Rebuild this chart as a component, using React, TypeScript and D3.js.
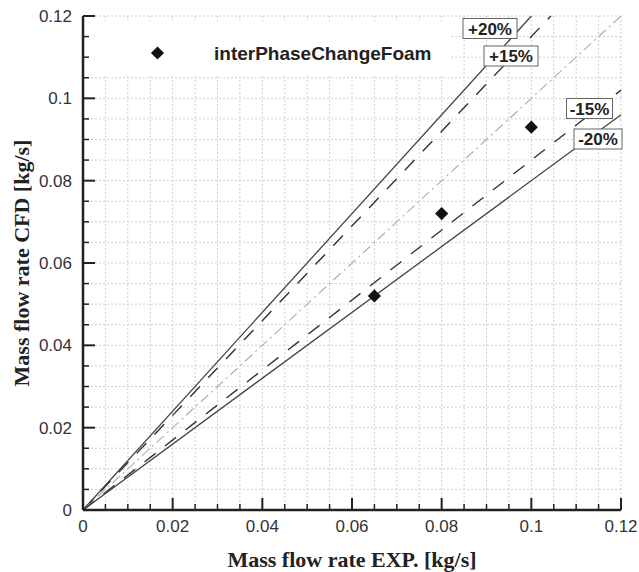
import React from "react";
import * as d3 from "d3";

const xTicks = [0, 0.02, 0.04, 0.06, 0.08, 0.1, 0.12];
const yTicks = [0, 0.02, 0.04, 0.06, 0.08, 0.1, 0.12];
const tickLabels = ["0", "0.02", "0.04", "0.06", "0.08", "0.1", "0.12"];
const expValues = [0.065, 0.08, 0.1];
const cfdValues = [0.052, 0.072, 0.093];
const seriesName = "interPhaseChangeFoam";
const bandFactors = [1.2, 1.15, 1.0, 0.85, 0.8];
const bandLabels = ["+20%", "+15%", "", "-15%", "-20%"];
const xTitle = "Mass flow rate EXP. [kg/s]";
const yTitle = "Mass flow rate CFD [kg/s]";

const W = 639, H = 572;
const L = 83, R = 621, T = 16, B = 510;

export default function App() {
  const x = d3.scaleLinear().domain([0, 0.12]).range([L, R]);
  const y = d3.scaleLinear().domain([0, 0.12]).range([B, T]);
  const minor = d3.range(1, 25).map((i) => i * 0.005);
  const line = d3.line<[number, number]>().x((d) => x(d[0])).y((d) => y(d[1]));

  const bandStyle = (f: number) => {
    if (f === 1) return { stroke: "#b0b0b0", dash: "10,4,2,4", w: 1.2 };
    if (f === 1.15 || f === 0.85) return { stroke: "#333", dash: "14,12", w: 1.4 };
    return { stroke: "#444", dash: "none", w: 1.3 };
  };

  const sans = "'Liberation Sans', Arial, sans-serif";
  const serif = "'Liberation Serif', 'Times New Roman', serif";

  const labelBoxes: { [k: string]: { cx: number; cy: number; w: number } } = {
    "+20%": { cx: 490, cy: 28.5, w: 54 },
    "+15%": { cx: 511, cy: 56, w: 54 },
    "-15%": { cx: 589.5, cy: 108.5, w: 46 },
    "-20%": { cx: 598, cy: 139, w: 48 },
  };

  const diamond = d3.symbol().type(d3.symbolDiamond2).size(110)();

  return (
    <svg width={W} height={H} style={{ position: "absolute", left: 0, top: 0, background: "#fff" }}>
      {/* grid */}
      <g stroke="#cfcfcf" strokeWidth={1} strokeDasharray="2,2">
        {minor.map((v) => (
          <line key={"gx" + v} x1={x(v)} x2={x(v)} y1={B} y2={T} />
        ))}
        {minor.map((v) => (
          <line key={"gy" + v} x1={L} x2={R} y1={y(v)} y2={y(v)} />
        ))}
      </g>
      {/* legend box background */}
      <rect x={L + 2} y={21} width={365} height={54} fill="#fff" />
      {/* band lines */}
      {bandFactors.map((f) => {
        const s = bandStyle(f);
        const xEnd = Math.min(0.12, 0.12 / f);
        return (
          <path
            key={"b" + f}
            d={line([[0, 0], [xEnd, xEnd * f]]) || ""}
            fill="none"
            stroke={s.stroke}
            strokeWidth={s.w}
            strokeDasharray={s.dash}
          />
        );
      })}
      {/* band labels */}
      {bandLabels.map((lab) => {
        if (!lab) return null;
        const b = labelBoxes[lab];
        return (
          <g key={lab}>
            <rect x={b.cx - b.w / 2} y={b.cy - 10} width={b.w} height={20} fill="#fff" stroke="#666" strokeWidth={1} />
            <text x={b.cx} y={b.cy + 6} textAnchor="middle" fontFamily={sans} fontWeight="bold" fontSize={17} fill="#222">
              {lab}
            </text>
          </g>
        );
      })}
      {/* data points */}
      {expValues.map((v, i) => (
        <path key={"p" + i} d={diamond || ""} transform={`translate(${x(v)},${y(cfdValues[i])})`} fill="#111" />
      ))}
      {/* legend */}
      <path d={diamond || ""} transform="translate(157.5,53)" fill="#111" />
      <text x={214} y={60} fontFamily={sans} fontWeight="bold" fontSize={19} fill="#222">
        {seriesName}
      </text>
      {/* axes */}
      <g stroke="#222" strokeWidth={2}>
        <line x1={L} x2={R} y1={B} y2={B} strokeWidth={2.5} />
        <line x1={L} x2={L} y1={B} y2={T} strokeWidth={2.5} />
        {xTicks.map((v) => (
          <line key={"xt" + v} x1={x(v)} x2={x(v)} y1={B} y2={B - 12} />
        ))}
        {yTicks.map((v) => (
          <line key={"yt" + v} x1={L} x2={L + 12} y1={y(v)} y2={y(v)} />
        ))}
        {minor.filter((v) => Math.abs((v / 0.02) - Math.round(v / 0.02)) > 1e-6).map((v) => (
          <line key={"xm" + v} x1={x(v)} x2={x(v)} y1={B} y2={B - 6} strokeWidth={1.5} />
        ))}
        {minor.filter((v) => Math.abs((v / 0.02) - Math.round(v / 0.02)) > 1e-6).map((v) => (
          <line key={"ym" + v} x1={L} x2={L + 6} y1={y(v)} y2={y(v)} strokeWidth={1.5} />
        ))}
      </g>
      {/* tick labels */}
      {xTicks.map((v, i) => (
        <text key={"xl" + v} x={x(v)} y={B + 22} textAnchor="middle" fontFamily={sans} fontSize={17} fill="#333">
          {tickLabels[i]}
        </text>
      ))}
      {yTicks.map((v, i) => (
        <text key={"yl" + v} x={L - 11} y={y(v) + 6} textAnchor="end" fontFamily={sans} fontSize={17} fill="#333">
          {tickLabels[i]}
        </text>
      ))}
      {/* titles */}
      <text x={352} y={567} textAnchor="middle" fontFamily={serif} fontWeight="bold" fontSize={22} fill="#222">
        {xTitle}
      </text>
      <text
        transform={`translate(29,${(T + B) / 2}) rotate(-90)`}
        textAnchor="middle"
        fontFamily={serif}
        fontWeight="bold"
        fontSize={22}
        fill="#222"
      >
        {yTitle}
      </text>
    </svg>
  );
}
